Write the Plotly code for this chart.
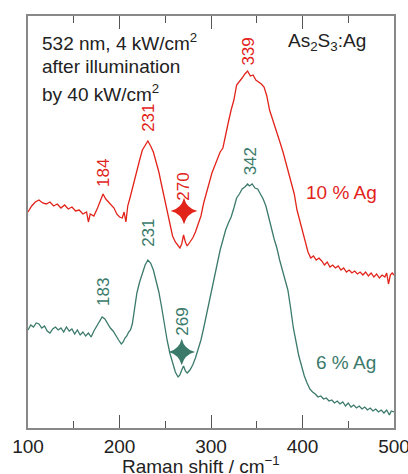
import plotly.graph_objects as go

# ---- data (Raman shift in cm^-1, intensity in arbitrary units) ----
x_10ag = [100,104,108,112,116,120,124,128,132,136,140,144,148,152,156,160,164,166,168,172,
          176,179,182,185,188,191,194,197,200,203,205,207,209,212,215,219,222,225,228,231,
          234,237,240,243,246,249,252,255,258,261,264,266,268,270,272,274,277,280,283,286,
          289,292,295,298,301,304,307,310,313,316,319,322,325,328,331,334,337,340,343,346,
          349,352,355,358,361,364,367,370,373,376,379,382,385,388,391,394,397,400,403,406,
          409,412,415,418,421,424,427,430,433,436,439,442,445,448,451,454,457,460,463,466,
          469,472,475,478,481,484,487,490,492,494,496,498,500]
y_10ag = [216,222,226,228,225,224,226,222,224,220,223,219,221,217,218,214,216,206,214,212,
          220,228,234,229,226,222,220,214,211,210,216,206,222,232,243,260,268,278,282,287,
          282,276,266,256,243,230,215,203,192,186,182,180,184,193,186,182,186,190,196,203,
          212,225,236,246,255,262,270,276,280,295,306,318,328,343,346,350,354,357,352,353,
          348,346,344,341,332,318,310,302,292,284,275,265,255,244,234,218,207,195,184,176,
          170,172,168,170,167,163,166,161,163,160,162,158,160,156,158,155,157,154,156,153,
          156,152,155,151,154,150,153,151,155,144,153,155,153]

x_6ag = [100,103,106,109,112,115,118,121,124,127,130,133,136,139,142,145,148,151,154,157,
         160,163,166,169,172,175,178,181,184,187,190,193,196,199,202,204,206,208,210,212,
         214,216,219,222,225,228,231,234,237,240,243,246,249,252,255,258,261,264,266,268,
         270,272,274,277,280,283,286,289,292,295,298,301,304,307,310,313,316,319,322,325,
         328,331,334,337,340,342,345,348,351,354,357,360,363,366,369,372,375,378,381,384,
         387,390,393,396,399,402,405,408,411,414,417,420,423,426,429,432,435,438,441,444,
         447,450,453,456,459,462,465,468,471,474,477,480,483,486,489,492,495,497,500]
y_6ag = [98,103,101,105,104,100,102,97,95,99,101,98,100,96,101,97,99,94,98,93,
         96,92,95,91,97,102,107,111,109,104,100,97,92,88,84,86,90,92,96,98,
         104,118,135,146,155,163,168,165,158,148,136,121,104,88,75,64,56,51,53,58,
         62,57,55,58,63,70,78,88,100,113,126,140,151,166,178,188,198,205,211,220,
         230,234,239,241,244,242,244,240,239,234,229,222,212,200,189,180,168,158,150,138,
         120,100,86,72,62,52,45,39,36,34,31,32,29,30,27,28,25,27,24,26,
         22,25,21,23,20,22,19,21,18,20,17,19,16,18,15,18,13,17,16]

# peak labels: (x, y, text)
peaks_10ag = [(340, 376, "339"), (231, 310, "231"), (182, 255, "184"), (269, 241, "270")]
peaks_6ag = [(343, 267, "342"), (231, 195, "231"), (182, 136, "183"), (268, 106, "269")]
star_10ag = (270.5, 217)
star_6ag = (268, 76)

RED = "#e2231a"
GREEN = "#3b7a6b"
FONT = "Liberation Sans, Arial, sans-serif"

fig = go.Figure()
fig.add_trace(go.Scatter(x=x_10ag, y=y_10ag, mode="lines",
                         line=dict(color=RED, width=1.3), showlegend=False))
fig.add_trace(go.Scatter(x=x_6ag, y=y_6ag, mode="lines",
                         line=dict(color=GREEN, width=1.3), showlegend=False))
fig.add_trace(go.Scatter(x=[star_10ag[0]], y=[star_10ag[1]], mode="markers",
                         marker=dict(symbol="star-diamond", size=19, color=RED), showlegend=False))
fig.add_trace(go.Scatter(x=[star_6ag[0]], y=[star_6ag[1]], mode="markers",
                         marker=dict(symbol="star-diamond", size=19, color=GREEN), showlegend=False))

for (px, py, t) in peaks_10ag:
    fig.add_annotation(x=px, y=py, text=t, textangle=-90, showarrow=False,
                       font=dict(size=17, color=RED, family=FONT))
for (px, py, t) in peaks_6ag:
    fig.add_annotation(x=px, y=py, text=t, textangle=-90, showarrow=False,
                       font=dict(size=17, color=GREEN, family=FONT))

fig.add_annotation(x=443, y=236, text="10 % Ag", showarrow=False,
                   font=dict(size=19, color=RED, family=FONT))
fig.add_annotation(x=448, y=66, text="6 % Ag", showarrow=False,
                   font=dict(size=19, color=GREEN, family=FONT))

txt_font = dict(size=19, color="#222222", family=FONT)
for i, line in enumerate(["532 nm, 4 kW/cm<sup>2</sup>", "after illumination", "by 40 kW/cm<sup>2</sup>"]):
    fig.add_annotation(xref="paper", yref="paper", x=0.033, y=[386, 361, 335][i] / 412,
                       xanchor="left", yanchor="middle", text=line, showarrow=False, font=txt_font)
fig.add_annotation(xref="paper", yref="paper", x=(368 - 28) / 366, y=386 / 412,
                   xanchor="right", yanchor="middle", text="As<sub>2</sub>S<sub>3</sub>:Ag",
                   showarrow=False, font=txt_font)
fig.add_annotation(xref="paper", yref="paper", x=(201 - 28) / 366, y=(428 - 465) / 412,
                   xanchor="center", yanchor="middle", text="Raman shift / cm<sup>\u22121</sup>",
                   showarrow=False, font=txt_font)

fig.update_layout(
    width=408, height=474,
    margin=dict(l=28, r=14, t=16, b=46, autoexpand=False),
    plot_bgcolor="white", paper_bgcolor="white",
    xaxis=dict(range=[100, 500], tickvals=[100, 200, 300, 400, 500], ticks="inside",
               ticklen=13, tickwidth=1.2, tickcolor="#555555", automargin=False,
               ticklabeloverflow="allow",
               minor=dict(tickvals=[150, 250, 350, 450], ticks="inside", ticklen=7,
                          tickwidth=1.2, tickcolor="#555555"),
               showline=True, linecolor="#888888", linewidth=1.5, mirror="ticks",
               showgrid=False, zeroline=False,
               tickfont=dict(size=19, color="#222222", family=FONT)),
    yaxis=dict(range=[0, 412], showticklabels=False, ticks="", showgrid=False, zeroline=False,
               automargin=False,
               showline=True, linecolor="#888888", linewidth=1.5, mirror=True),
)

fig.write_html("out.html", config={"displayModeBar": False},
               post_script="document.body.style.margin='0';document.body.style.overflow='hidden';")
